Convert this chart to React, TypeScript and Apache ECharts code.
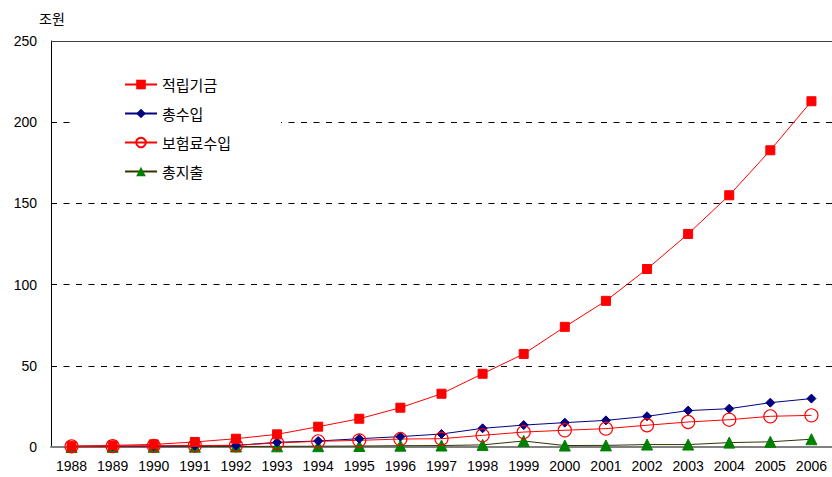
import React, { useEffect, useRef } from "react";
import * as echarts from "echarts";

const years = ["1988","1989","1990","1991","1992","1993","1994","1995","1996","1997","1998","1999","2000","2001","2002","2003","2004","2005","2006"];
const fund = [0.5, 1.0, 1.6, 3.1, 5.1, 7.8, 12.5, 17.4, 24.2, 32.8, 45.1, 57.3, 74.0, 90.0, 109.6, 131.2, 155.0, 182.7, 212.9];
const totalIncome = [0.5, 0.5, 0.6, 0.8, 1.0, 2.9, 3.7, 5.1, 6.4, 8.0, 11.5, 13.5, 15.0, 16.4, 18.9, 22.4, 23.6, 27.3, 29.8];
const premium = [0.4, 0.5, 0.7, 0.9, 1.0, 2.5, 3.5, 4.1, 4.9, 5.1, 7.2, 9.2, 10.3, 11.3, 13.4, 15.4, 16.8, 18.9, 19.5];
const totalSpend = [0.0, 0.1, 0.1, 0.2, 0.3, 0.4, 0.5, 0.6, 0.8, 0.9, 1.3, 3.7, 0.9, 1.0, 1.5, 1.5, 2.7, 3.2, 4.8];
const yTicks = { min: 0, max: 250, interval: 50 };

const FONT = "'Liberation Sans', Arial, 'Noto Sans CJK KR', sans-serif";
const KFONT = "'Noto Sans CJK KR', sans-serif";

export default function App() {
  const ref = useRef<HTMLDivElement>(null);
  useEffect(() => {
    if (!ref.current) return;
    const chart = echarts.init(ref.current, null, { renderer: "svg" });
    chart.setOption({
      animation: false,
      backgroundColor: "#ffffff",
      textStyle: { fontFamily: FONT },
      grid: { left: 51, right: -1, top: 41, bottom: 30 },
      legend: {
        orient: "vertical",
        left: 76,
        top: 63,
        backgroundColor: "#ffffff",
        padding: [14, 50, 14, 48],
        itemGap: 14,
        itemWidth: 32,
        itemHeight: 12,
        textStyle: { fontSize: 15, color: "#000", fontFamily: KFONT },
        data: ["적립기금", "총수입", "보험료수입", "총지출"],
      },
      xAxis: {
        type: "category",
        data: years,
        boundaryGap: true,
        axisLine: { lineStyle: { color: "#808080", width: 2 } },
        axisTick: { show: false },
        axisLabel: { color: "#000", fontSize: 14, margin: 12, interval: 0, fontFamily: FONT },
      },
      yAxis: {
        type: "value",
        name: "조원",
        nameLocation: "end",
        nameGap: 16,
        nameTextStyle: { color: "#000", fontSize: 14, align: "left", padding: [0, 0, 0, -12], fontFamily: KFONT },
        min: yTicks.min,
        max: yTicks.max,
        interval: yTicks.interval,
        axisLine: { show: true, lineStyle: { color: "#000", width: 1 } },
        axisTick: { show: false },
        axisLabel: { color: "#000", fontSize: 14, margin: 14, fontFamily: FONT },
        splitLine: { show: true, lineStyle: { color: "#000", type: [6, 6.5], width: 1 } },
      },
      series: [
        {
          name: "적립기금",
          type: "line",
          data: fund,
          symbol: "rect",
          symbolSize: 9,
          lineStyle: { color: "#ff0000", width: 1 },
          itemStyle: { color: "#ff0000", borderColor: "#ff0000" },
          z: 4,
          markLine: {
            silent: true,
            symbol: "none",
            label: { show: false },
            lineStyle: { color: "#404040", type: "solid", width: 1 },
            data: [{ yAxis: 250 }],
          },
        },
        {
          name: "총수입",
          type: "line",
          data: totalIncome,
          symbol: "diamond",
          symbolSize: 9,
          lineStyle: { color: "#000080", width: 1 },
          itemStyle: { color: "#000080", borderColor: "#000080" },
          z: 3,
        },
        {
          name: "보험료수입",
          type: "line",
          data: premium,
          symbol: "circle",
          symbolSize: 13,
          showAllSymbol: true,
          lineStyle: { color: "#ff0000", width: 1 },
          itemStyle: { color: "transparent", borderColor: "#ff0000", borderWidth: 1.2 },
          z: 3,
        },
        {
          name: "총지출",
          type: "line",
          data: totalSpend,
          symbol: "triangle",
          symbolSize: 11,
          lineStyle: { color: "#333300", width: 1 },
          itemStyle: { color: "#008000", borderColor: "#008000" },
          z: 2,
        },
      ],
    });
    return () => chart.dispose();
  }, []);
  return <div ref={ref} style={{ position: "fixed", left: 0, top: 0, width: 832, height: 477 }} />;
}
